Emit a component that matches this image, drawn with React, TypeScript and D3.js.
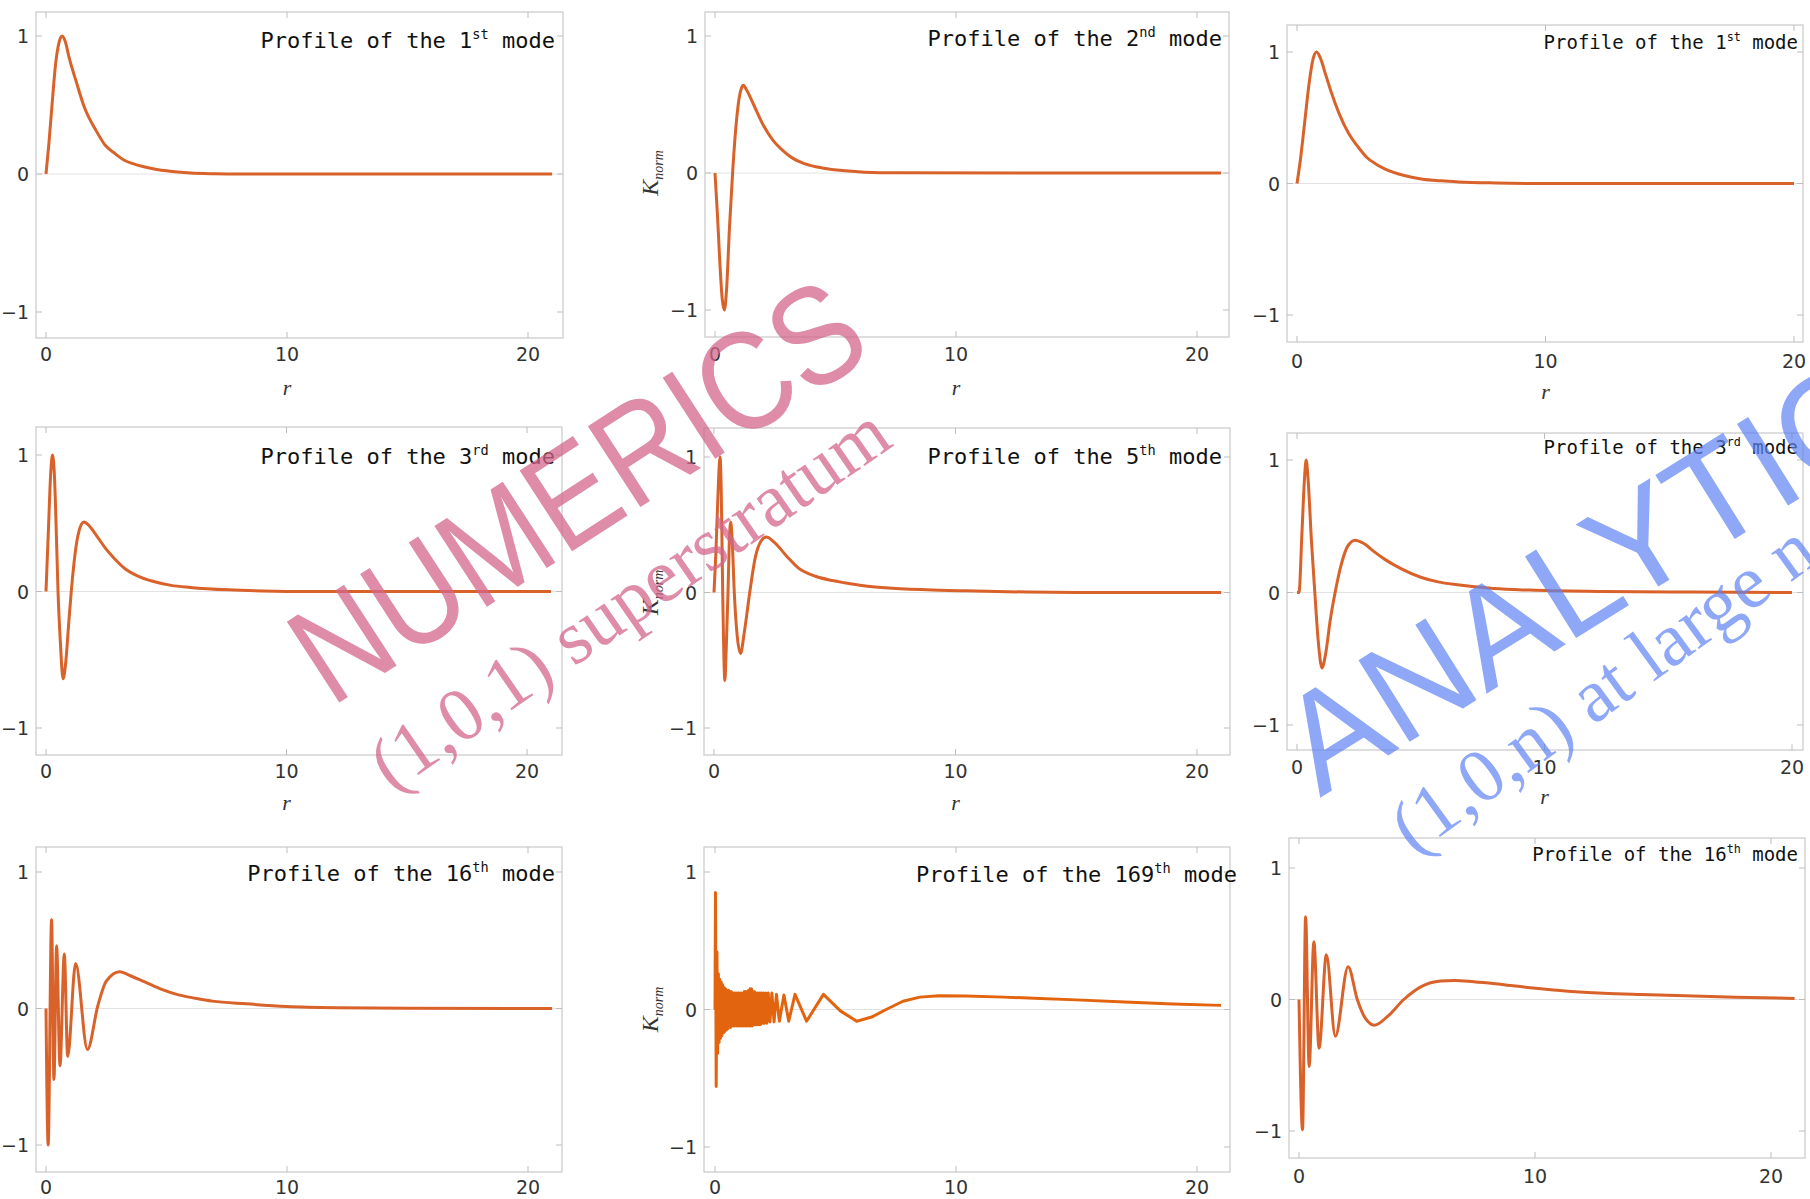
import React from "react";
import * as d3 from "d3";

type Pt = [number, number];

// mode profiles K_norm(r)
const mode1Numeric: Pt[] = [
  [0, 0], [0.12, 0.22], [0.25, 0.5], [0.4, 0.8], [0.55, 0.96], [0.67, 1.0], [0.8, 0.96],
  [0.95, 0.85], [1.27, 0.66], [1.6, 0.48], [2.06, 0.32], [2.45, 0.21], [2.85, 0.15],
  [3.25, 0.1], [3.64, 0.073], [4.44, 0.038], [5.23, 0.018], [6.0, 0.007], [7, 0.002],
  [8, 0], [21, 0],
];

const mode2Numeric: Pt[] = [
  [0, 0], [0.1, -0.3], [0.2, -0.65], [0.3, -0.92], [0.39, -1.0], [0.48, -0.85],
  [0.6, -0.4], [0.73, 0], [0.85, 0.3], [0.98, 0.52], [1.1, 0.62], [1.18, 0.64],
  [1.3, 0.61], [1.6, 0.5], [2.0, 0.35], [2.4, 0.24], [2.84, 0.16], [3.25, 0.105],
  [3.68, 0.07], [4.5, 0.035], [5.4, 0.016], [6.2, 0.006], [7.5, 0.001], [21, 0],
];

const mode1Analytic: Pt[] = [
  [0, 0], [0.15, 0.2], [0.3, 0.45], [0.5, 0.78], [0.65, 0.95], [0.79, 1.0], [0.95, 0.95],
  [1.15, 0.83], [1.35, 0.71], [1.7, 0.53], [2.08, 0.38], [2.45, 0.28], [2.8, 0.2],
  [3.2, 0.145], [3.55, 0.11], [4.28, 0.063], [5.0, 0.035], [5.8, 0.02], [6.5, 0.012],
  [8, 0.004], [10, 0], [20, 0],
];

const mode3Numeric: Pt[] = [
  [0, 0], [0.1, 0.45], [0.2, 0.88], [0.27, 1.0], [0.35, 0.85], [0.45, 0.3], [0.5, 0],
  [0.6, -0.38], [0.71, -0.64], [0.82, -0.52], [0.95, -0.22], [1.05, 0], [1.25, 0.33],
  [1.42, 0.47], [1.58, 0.51], [1.75, 0.49], [2.1, 0.41], [2.5, 0.31], [2.85, 0.24],
  [3.3, 0.165], [3.8, 0.115], [4.44, 0.075], [5.2, 0.045], [6.0, 0.03], [7.6, 0.012],
  [9, 0.004], [11, 0], [21, 0],
];

const mode5Numeric: Pt[] = [
  [0, 0], [0.08, 0.3], [0.17, 0.75], [0.25, 1.0], [0.3, 0.75], [0.36, 0], [0.4, -0.4],
  [0.45, -0.65], [0.5, -0.45], [0.58, 0], [0.63, 0.35], [0.69, 0.52], [0.75, 0.4],
  [0.84, 0], [0.95, -0.3], [1.1, -0.45], [1.25, -0.3], [1.48, 0], [1.7, 0.25],
  [1.95, 0.38], [2.17, 0.41], [2.5, 0.37], [3.0, 0.27], [3.5, 0.18], [4.2, 0.12],
  [4.9, 0.088], [5.4, 0.072], [6.2, 0.05], [7.1, 0.035], [8.8, 0.02], [10.4, 0.012],
  [13, 0.003], [15, 0], [21, 0],
];

const mode3Analytic: Pt[] = [
  [0, 0], [0.08, 0], [0.2, 0.45], [0.3, 0.85], [0.37, 1.0], [0.45, 0.85], [0.58, 0.4],
  [0.72, 0], [0.86, -0.37], [1.01, -0.57], [1.15, -0.47], [1.35, -0.2], [1.54, 0],
  [1.8, 0.22], [2.05, 0.35], [2.35, 0.395], [2.7, 0.37], [3.1, 0.31], [3.55, 0.25],
  [4.2, 0.18], [5.0, 0.115], [5.7, 0.08], [6.48, 0.058], [7.95, 0.03], [9.4, 0.018],
  [12.3, 0.008], [16, 0.003], [20, 0],
];

const mode16Numeric: Pt[] = [
  [0, 0], [0.09, -1.0], [0.23, 0.65], [0.33, -0.52], [0.44, 0.46], [0.58, -0.42],
  [0.76, 0.4], [0.9, -0.35], [1.23, 0.33], [1.72, -0.3], [2.15, 0.02], [2.5, 0.2],
  [3.06, 0.27], [3.5, 0.24], [4.16, 0.19], [4.8, 0.14], [5.5, 0.1], [6.2, 0.075],
  [6.9, 0.054], [8.3, 0.034], [10, 0.015], [12, 0.006], [15, 0.002], [21, 0],
];

const mode169Numeric: Pt[] = [
  [0, 0], [0.02, 0.85], [0.05, -0.56], [0.08, 0.42], [0.11, -0.32], [0.14, 0.26],
  [0.17, -0.24], [0.2, 0.22], [0.23, -0.21], [0.26, 0.2], [0.29, -0.19], [0.32, 0.18],
  [0.35, -0.17], [0.38, 0.16], [0.41, -0.16], [0.44, 0.15], [0.47, -0.15], [0.5, 0.14],
  [0.53, -0.14], [0.56, 0.14], [0.59, -0.13], [0.62, 0.13], [0.65, -0.13], [0.68, 0.13],
  [0.71, -0.12], [0.74, 0.12], [0.77, -0.12], [0.8, 0.12], [0.83, -0.12], [0.86, 0.12],
  [0.89, -0.12], [0.92, 0.12], [0.95, -0.12], [0.98, 0.12], [1.01, -0.12], [1.04, 0.12],
  [1.07, -0.12], [1.1, 0.12], [1.13, -0.12], [1.16, 0.12], [1.19, -0.12], [1.22, 0.13],
  [1.25, -0.12], [1.28, 0.13], [1.31, -0.12], [1.34, 0.13], [1.37, -0.12], [1.4, 0.14],
  [1.43, -0.12], [1.46, 0.15], [1.49, -0.12], [1.52, 0.15], [1.55, -0.12], [1.58, 0.13],
  [1.61, -0.11], [1.64, 0.13], [1.67, -0.11], [1.7, 0.12], [1.73, -0.11], [1.76, 0.12],
  [1.8, -0.11], [1.84, 0.12], [1.88, -0.11], [1.92, 0.12], [1.96, -0.1], [2.0, 0.12],
  [2.05, -0.1], [2.1, 0.12], [2.15, -0.1], [2.21, 0.12], [2.28, -0.09], [2.36, 0.12],
  [2.45, -0.09], [2.55, 0.11], [2.67, -0.085], [2.86, 0.105], [3.06, -0.085],
  [3.32, 0.11], [3.8, -0.085], [4.5, 0.11], [5.2, -0.01], [5.88, -0.085], [6.5, -0.055],
  [7.1, 0], [7.8, 0.06], [8.5, 0.09], [9.3, 0.1], [10.4, 0.098], [12, 0.09],
  [13.5, 0.08], [15, 0.07], [17, 0.055], [19, 0.04], [21, 0.03],
];

const mode16Analytic: Pt[] = [
  [0, 0], [0.15, -0.99], [0.28, 0.63], [0.43, -0.51], [0.63, 0.44], [0.85, -0.37],
  [1.16, 0.34], [1.54, -0.28], [2.08, 0.25], [2.47, 0], [2.8, -0.14], [3.2, -0.195],
  [3.8, -0.12], [4.44, 0], [5.2, 0.1], [6.0, 0.14], [6.6, 0.145], [7.4, 0.135],
  [8.3, 0.12], [9.8, 0.089], [11.4, 0.063], [12.9, 0.048], [14.5, 0.038], [16, 0.03],
  [18.5, 0.018], [21, 0.008],
];

const SERIES = [
  mode1Numeric, mode2Numeric, mode1Analytic,
  mode3Numeric, mode5Numeric, mode3Analytic,
  mode16Numeric, mode169Numeric, mode16Analytic,
];
const ORDINALS = ["1", "2", "1", "3", "5", "3", "16", "169", "16"];
const SUFFIXES = ["st", "nd", "st", "rd", "th", "rd", "th", "th", "th"];
const X_TICKS = [0, 10, 20];
const Y_TICKS = [-1, 0, 1];

// where each panel sits on the page
const LAYOUT = [
  { x0: 46, x20: 528, y1: 36, ym1: 312, frame: [36, 12, 563, 338], tx: 555, ty: 48, ts: 22, tick: 361, rl: 395, kl: false },
  { x0: 715, x20: 1197, y1: 36, ym1: 310, frame: [705, 12, 1229, 337], tx: 1222, ty: 46, ts: 22, tick: 361, rl: 395, kl: true },
  { x0: 1297, x20: 1794, y1: 52, ym1: 315, frame: [1287, 25, 1803, 342], tx: 1798, ty: 49, ts: 19, tick: 368, rl: 399, kl: false },
  { x0: 46, x20: 527, y1: 455, ym1: 728, frame: [36, 427, 562, 755], tx: 555, ty: 464, ts: 22, tick: 778, rl: 810, kl: false },
  { x0: 714, x20: 1197, y1: 457, ym1: 728, frame: [704, 428, 1230, 755], tx: 1222, ty: 464, ts: 22, tick: 778, rl: 810, kl: true },
  { x0: 1297, x20: 1792, y1: 460, ym1: 725, frame: [1287, 433, 1803, 750], tx: 1798, ty: 454, ts: 19, tick: 774, rl: 804, kl: false },
  { x0: 46, x20: 528, y1: 872, ym1: 1145, frame: [36, 847, 562, 1172], tx: 555, ty: 881, ts: 22, tick: 1194, rl: 0, kl: false },
  { x0: 715, x20: 1197, y1: 872, ym1: 1147, frame: [704, 847, 1230, 1172], tx: 1237, ty: 882, ts: 22, tick: 1194, rl: 0, kl: true },
  { x0: 1299, x20: 1771, y1: 868, ym1: 1131, frame: [1289, 838, 1805, 1158], tx: 1798, ty: 861, ts: 19, tick: 1183, rl: 0, kl: false },
];

const ORANGE = "#d9622a";

function Panel({ i }: { i: number }) {
  const p = LAYOUT[i];
  const x = d3.scaleLinear().domain([0, 20]).range([p.x0, p.x20]);
  const y = d3.scaleLinear().domain([-1, 1]).range([p.ym1, p.y1]);
  const line = d3
    .line<Pt>()
    .x((d) => x(d[0]))
    .y((d) => y(d[1]))
    .curve(i === 7 ? d3.curveLinear : d3.curveMonotoneX);
  const [l, t, r, b] = p.frame;
  const mono = "'DejaVu Sans Mono', monospace";
  return (
    <g>
      <rect x={l} y={t} width={r - l} height={b - t} fill="none" stroke="#cdcdcd" strokeWidth={1.3} />
      <line x1={l} x2={r} y1={y(0)} y2={y(0)} stroke="#e3e3e3" strokeWidth={1.2} />
      {X_TICKS.map((v) => (
        <g key={"x" + v}>
          <line x1={x(v)} x2={x(v)} y1={b} y2={b - 6} stroke="#bdbdbd" />
          <line x1={x(v)} x2={x(v)} y1={t} y2={t + 6} stroke="#bdbdbd" />
          <text x={x(v)} y={p.tick} textAnchor="middle" fontFamily="'DejaVu Sans', sans-serif" fontSize={19} fill="#333">
            {v}
          </text>
        </g>
      ))}
      {Y_TICKS.map((v) => (
        <g key={"y" + v}>
          <line x1={l} x2={l + 6} y1={y(v)} y2={y(v)} stroke="#bdbdbd" />
          <line x1={r} x2={r - 6} y1={y(v)} y2={y(v)} stroke="#bdbdbd" />
          <text x={l - 7} y={y(v) + 7} textAnchor="end" fontFamily="'DejaVu Sans', sans-serif" fontSize={19} fill="#333">
            {v < 0 ? "\u2212" + Math.abs(v) : v}
          </text>
        </g>
      ))}
      <path d={line(SERIES[i]) || ""} fill="none" stroke={i === 7 ? "#e3640f" : ORANGE} strokeWidth={3} strokeLinejoin="round" />
      <text x={p.tx} y={p.ty} textAnchor="end" fontFamily={mono} fontSize={p.ts} fill="#111">
        {"Profile of the " + ORDINALS[i]}
        <tspan fontSize={p.ts * 0.62} dy={-p.ts * 0.42}>{SUFFIXES[i]}</tspan>
        <tspan dy={p.ts * 0.42}>{" mode"}</tspan>
      </text>
      {p.rl > 0 && (
        <text x={x(10)} y={p.rl} textAnchor="middle" fontFamily="'Liberation Serif', serif" fontStyle="italic" fontSize={22} fill="#333">
          r
        </text>
      )}
      {p.kl && (
        <text transform={`translate(658,${y(0)}) rotate(-90)`} textAnchor="middle" fontFamily="'Liberation Serif', serif" fontStyle="italic" fontSize={24} fill="#333">
          K<tspan fontSize={14} dy={5}>norm</tspan>
        </text>
      )}
    </g>
  );
}

export default function App() {
  return (
    <svg width={1810} height={1199} style={{ position: "absolute", left: 0, top: 0, background: "#fff" }}>
      {LAYOUT.map((_, i) => (
        <Panel key={i} i={i} />
      ))}
      <g opacity={0.75} fill="#d3668c">
        <text transform="translate(331,708) rotate(-33)" fontFamily="'Liberation Sans', sans-serif" fontSize={140} textLength={650} lengthAdjust="spacingAndGlyphs">
          NUMERICS
        </text>
        <text transform="translate(392,793) rotate(-34.7)" fontFamily="'Liberation Serif', serif" fontSize={76} textLength={612} lengthAdjust="spacingAndGlyphs">
          (1,0,1) superstratum
        </text>
      </g>
      <g opacity={0.7} fill="#5f83f3">
        <text transform="translate(1320,798) rotate(-32)" fontFamily="'Liberation Sans', sans-serif" fontSize={140} textLength={680} lengthAdjust="spacingAndGlyphs">
          ANALYTIC
        </text>
        <text transform="translate(1414,856) rotate(-36)" fontFamily="'Liberation Serif', serif" fontSize={76}>
          (1,0,n) at large n
        </text>
      </g>
    </svg>
  );
}
